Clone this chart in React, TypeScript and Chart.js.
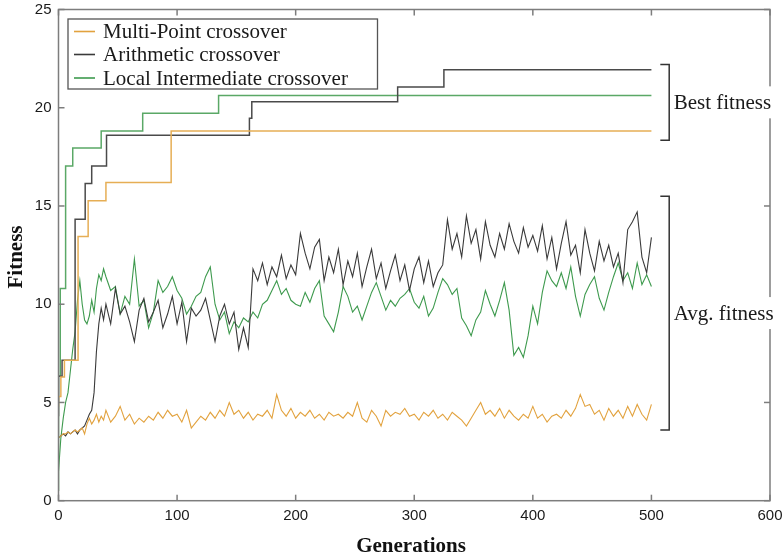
import React, { useEffect, useRef } from "react";
import { Chart, registerables } from "chart.js";

Chart.register(...registerables);

// ---- Data ----
const seriesNames = ["Multi-Point crossover", "Arithmetic crossover", "Local Intermediate crossover"];
const xTickValues = [0, 100, 200, 300, 400, 500, 600];
const yTickValues = [0, 5, 10, 15, 20, 25];

// Best fitness: generation where a new value starts, and the value (step function)
const bestMultiGen = [0, 2, 5, 16.5, 25, 40, 95, 143.5, 500];
const bestMultiVal = [4.8, 5.3, 6.3, 7.15, 13.45, 15.26, 16.2, 18.82, 18.82];
const bestArithGen = [0, 3, 14, 22.5, 28, 40.5, 161, 163, 286, 325, 339.5, 500];
const bestArithVal = [4.3, 6.34, 7.15, 14.33, 16.15, 17.04, 18.6, 19.47, 20.3, 21.05, 21.93, 21.93];
const bestLocalGen = [0, 1.5, 6, 12, 36, 71, 135, 264, 500];
const bestLocalVal = [0.5, 6.35, 10.8, 17.04, 17.95, 18.82, 19.72, 20.62, 20.62];

// Average fitness, sampled generations
const avgGen = [
  0, 2, 4, 6, 8, 10, 12, 14, 16, 18,
  20, 22, 24, 26, 28, 30, 32, 34, 36, 38,
  40, 44, 48, 52, 56, 60, 64, 68, 72, 76,
  80, 84, 88, 92, 96, 100, 104, 108, 112, 116,
  120, 124, 128, 132, 136, 140, 144, 148, 152, 156,
  160, 164, 168, 172, 176, 180, 184, 188, 192, 196,
  200, 204, 208, 212, 216, 220, 224, 228, 232, 236,
  240, 244, 248, 252, 256, 260, 264, 268, 272, 276,
  280, 284, 288, 292, 296, 300, 304, 308, 312, 316,
  320, 324, 328, 332, 336, 340, 344, 348, 352, 356,
  360, 364, 368, 372, 376, 380, 384, 388, 392, 396,
  400, 404, 408, 412, 416, 420, 424, 428, 432, 436,
  440, 444, 448, 452, 456, 460, 464, 468, 472, 476,
  480, 484, 488, 492, 496, 500,
];
const avgMulti = [
  3.2, 3.3, 3.4, 3.4, 3.5, 3.4, 3.5, 3.6, 3.5, 3.6,
  3.7, 3.4, 3.9, 4.2, 3.9, 4.1, 4.4, 4.0, 4.3, 4.1,
  4.6, 4.0, 4.3, 4.8, 4.1, 4.4, 3.9, 4.2, 4.0, 4.3,
  4.1, 4.5, 4.2, 4.6, 4.3, 4.4, 4.0, 4.6, 3.7, 4.0,
  4.3, 4.1, 4.5, 4.2, 4.6, 4.3, 5.0, 4.4, 4.6, 4.2,
  4.5, 4.1, 4.4, 4.3, 4.6, 4.2, 5.4, 4.6, 4.3, 4.7,
  4.2, 4.5, 4.3, 4.6, 4.2, 4.4, 4.1, 4.5, 4.3, 4.4,
  4.2, 4.5, 4.3, 5.0, 4.2, 4.0, 4.6, 4.3, 3.8, 4.6,
  4.3, 4.5, 4.4, 4.7, 4.3, 4.4, 4.1, 4.5, 4.3, 4.6,
  4.2, 4.4, 4.1, 4.5, 4.3, 4.1, 3.8, 4.2, 4.6, 5.0,
  4.4, 4.6, 4.3, 4.7, 4.2, 4.6, 4.3, 4.1, 4.4, 4.2,
  4.8, 4.2, 4.4, 4.0, 4.3, 4.4, 4.2, 4.6, 4.3, 4.7,
  5.4, 4.8, 4.9, 4.4, 4.6, 4.1, 4.7, 4.3, 4.6, 4.2,
  4.8, 4.3, 4.9, 4.4, 4.1, 4.9,
];
const avgArith = [
  3.2, 3.3, 3.4, 3.3, 3.5, 3.4, 3.5, 3.6, 3.4, 3.6,
  3.7, 3.8, 4.1, 4.4, 4.6, 5.5, 7.6, 9.0, 9.8, 9.2,
  10.0, 9.0, 10.8, 9.5, 9.9, 9.1, 8.1, 9.7, 10.3, 9.1,
  9.6, 10.2, 8.8, 9.5, 10.4, 9.0, 10.1, 8.1, 9.8, 9.4,
  9.7, 10.3, 9.2, 8.1, 9.4, 10.0, 9.0, 9.6, 7.7, 8.8,
  7.8, 11.8, 11.2, 12.1, 11.0, 11.9, 11.4, 12.5, 11.3, 12.0,
  11.5, 13.6, 12.6, 11.8, 12.9, 13.3, 11.2, 12.4, 11.6, 12.8,
  11.0, 12.2, 11.4, 12.6, 10.9, 11.9, 12.8, 11.3, 12.1, 10.8,
  11.7, 12.5, 11.2, 12.0, 10.7, 11.8, 12.4, 11.1, 12.2, 10.9,
  11.6, 12.0, 14.3, 12.8, 13.6, 12.4, 14.5, 13.1, 13.8, 12.3,
  14.2, 13.0, 12.4, 13.6, 12.8, 14.1, 13.2, 12.6, 13.9, 12.9,
  13.5, 12.7, 14.0, 12.3, 13.4, 11.8, 13.1, 14.2, 12.5, 13.0,
  11.6, 13.8, 12.6, 11.7, 13.2, 12.2, 13.0, 11.9, 12.6, 11.1,
  13.8, 14.2, 14.7, 12.4, 11.6, 13.4,
];
const avgLocal = [
  1.5, 3.2, 4.2, 5.0, 5.5, 6.6, 7.7, 8.6, 10.2, 11.2,
  10.0, 9.2, 9.0, 9.4, 10.2, 9.6, 10.8, 11.5, 11.2, 11.8,
  11.4, 10.7, 10.9, 9.5, 10.4, 10.0, 12.3, 9.9, 10.2, 8.8,
  9.6, 11.2, 10.6, 10.9, 11.4, 10.7, 10.3, 9.5, 9.9, 10.4,
  10.6, 11.4, 11.9, 10.0, 9.2, 9.6, 8.5, 9.1, 8.8, 9.3,
  9.1, 9.6, 9.3, 10.0, 10.2, 10.7, 11.2, 10.5, 10.8, 10.2,
  10.0, 9.9, 10.6, 10.1, 10.8, 11.2, 9.4, 9.0, 8.6, 9.6,
  10.9, 10.4, 9.6, 9.9, 9.2, 9.9, 10.6, 11.1, 10.4, 9.7,
  10.2, 9.9, 10.3, 10.5, 10.8, 10.1, 9.8, 10.4, 9.4, 9.8,
  10.6, 11.3, 11.0, 10.5, 10.8, 9.3, 8.9, 8.4, 9.2, 9.6,
  10.7, 10.0, 9.4, 10.2, 11.1, 9.7, 7.4, 7.8, 7.3, 8.4,
  9.9, 9.0, 10.6, 11.7, 11.2, 10.9, 11.6, 10.8, 11.9, 10.4,
  9.4, 10.5, 11.0, 11.4, 10.3, 9.7, 10.6, 11.4, 12.1, 11.2,
  11.6, 10.8, 12.1, 11.0, 11.5, 10.9,
];

// ---- Styles ----
const COLORS = ["#e2a23e", "#3a3a3a", "#3e9a4e"];
const BEST_COLORS = ["#e6ae55", "#4a4a4a", "#5aa866"];
const FRAME = "#7d7d7d";
const SERIF_FONT = '21px "Liberation Serif", "Times New Roman", serif';

const pts = (xs: number[], ys: number[]) => xs.map((x, i) => ({ x, y: ys[i] }));

const decorPlugin = {
  id: "decor",
  afterDatasetsDraw(chart: any) {
    const { ctx, chartArea: a, scales } = chart;
    const xs = scales.x;
    const ys = scales.y;
    ctx.save();
    const line = (x1: number, y1: number, x2: number, y2: number) => {
      ctx.beginPath();
      ctx.moveTo(x1, y1);
      ctx.lineTo(x2, y2);
      ctx.stroke();
    };
    // frame
    ctx.strokeStyle = FRAME;
    ctx.lineWidth = 1.5;
    ctx.strokeRect(a.left, a.top, a.right - a.left, a.bottom - a.top);
    const tl = 6;
    xTickValues.forEach((v) => {
      const px = xs.getPixelForValue(v);
      line(px, a.bottom, px, a.bottom - tl);
      line(px, a.top, px, a.top + tl);
    });
    yTickValues.forEach((v) => {
      const py = ys.getPixelForValue(v);
      line(a.left, py, a.left + tl, py);
      line(a.right, py, a.right - tl, py);
    });

    // brackets + labels
    const brackets = [
      { label: "Best fitness", top: 22.2, bottom: 18.35 },
      { label: "Avg. fitness", top: 15.5, bottom: 3.6 },
    ];
    const bx = xs.getPixelForValue(515);
    const bx0 = xs.getPixelForValue(507.5);
    ctx.lineWidth = 1.5;
    ctx.font = SERIF_FONT;
    brackets.forEach((b) => {
      const t = ys.getPixelForValue(b.top);
      const bt = ys.getPixelForValue(b.bottom);
      ctx.strokeStyle = "#333";
      ctx.beginPath();
      ctx.moveTo(bx0, t);
      ctx.lineTo(bx, t);
      ctx.lineTo(bx, bt);
      ctx.lineTo(bx0, bt);
      ctx.stroke();
      const cy = (t + bt) / 2;
      const tx = bx + 4.5;
      const w = ctx.measureText(b.label).width;
      ctx.fillStyle = "#fff";
      ctx.fillRect(tx - 1, cy - 16, w + 3, 32);
      ctx.fillStyle = "#1a1a1a";
      ctx.textAlign = "left";
      ctx.textBaseline = "middle";
      ctx.fillText(b.label, tx, cy + 1);
    });

    // legend
    const lx = 68, ly = 19, lw = 309.5, lh = 70;
    ctx.fillStyle = "#fff";
    ctx.fillRect(lx, ly, lw, lh);
    ctx.strokeStyle = "#555";
    ctx.lineWidth = 1.3;
    ctx.strokeRect(lx, ly, lw, lh);
    const rows = [31.5, 54.5, 78];
    ctx.font = SERIF_FONT;
    ctx.textBaseline = "middle";
    ctx.textAlign = "left";
    seriesNames.forEach((n, i) => {
      ctx.strokeStyle = COLORS[i];
      ctx.lineWidth = 1.6;
      line(74, rows[i], 95, rows[i]);
      ctx.fillStyle = "#1a1a1a";
      ctx.fillText(n, 103, rows[i] + 1);
    });

    // axis titles
    ctx.fillStyle = "#111";
    ctx.font = 'bold 21px "Liberation Serif", "Times New Roman", serif';
    ctx.textAlign = "center";
    ctx.textBaseline = "alphabetic";
    ctx.fillText("Generations", 411, 551.5);
    ctx.save();
    ctx.translate(21.5, 257);
    ctx.rotate(-Math.PI / 2);
    ctx.fillText("Fitness", 0, 0);
    ctx.restore();

    ctx.restore();
  },
};

export default function App() {
  const ref = useRef<HTMLCanvasElement | null>(null);
  useEffect(() => {
    if (!ref.current) return;
    const mk = (label: string, data: any[], color: string, width: number, stepped: any) => ({
      label,
      data,
      borderColor: color,
      backgroundColor: color,
      borderWidth: width,
      pointRadius: 0,
      fill: false,
      tension: 0,
      stepped,
    });
    const chart = new Chart(ref.current, {
      type: "line",
      data: {
        datasets: [
          mk("best-multi", pts(bestMultiGen, bestMultiVal), BEST_COLORS[0], 1.5, "after"),
          mk("best-arith", pts(bestArithGen, bestArithVal), BEST_COLORS[1], 1.5, "after"),
          mk("best-local", pts(bestLocalGen, bestLocalVal), BEST_COLORS[2], 1.5, "after"),
          mk(seriesNames[0], pts(avgGen, avgMulti), COLORS[0], 1.1, false),
          mk(seriesNames[1], pts(avgGen, avgArith), COLORS[1], 1.1, false),
          mk(seriesNames[2], pts(avgGen, avgLocal), COLORS[2], 1.1, false),
        ],
      },
      options: {
        animation: false,
        responsive: false,
        maintainAspectRatio: false,
        layout: { padding: { left: 0, right: 13, top: 9.5, bottom: 0 } },
        plugins: { legend: { display: false }, tooltip: { enabled: false } },
        scales: {
          x: {
            type: "linear",
            min: 0,
            max: 600,
            afterBuildTicks: (s: any) => {
              s.ticks = xTickValues.map((v) => ({ value: v }));
            },
            afterFit: (s: any) => {
              s.height = 56.3;
              s.paddingLeft = 0;
              s.paddingRight = 0;
            },
            ticks: {
              color: "#1a1a1a",
              font: { family: '"Liberation Sans", Arial, sans-serif', size: 15 },
              padding: 6,
              maxRotation: 0,
            },
            grid: { display: false, drawTicks: false },
            border: { display: false },
          },
          y: {
            type: "linear",
            min: 0,
            max: 25,
            afterBuildTicks: (s: any) => {
              s.ticks = yTickValues.map((v) => ({ value: v }));
            },
            afterFit: (s: any) => {
              s.width = 58.5;
              s.paddingTop = 0;
              s.paddingBottom = 0;
            },
            ticks: {
              color: "#1a1a1a",
              font: { family: '"Liberation Sans", Arial, sans-serif', size: 15 },
              padding: 7,
            },
            grid: { display: false, drawTicks: false },
            border: { display: false },
          },
        },
      },
      plugins: [decorPlugin],
    });
    return () => chart.destroy();
  }, []);
  return (
    <div style={{ position: "fixed", left: 0, top: 0, width: 783, height: 557, background: "#fff" }}>
      <canvas ref={ref} width={783} height={557} style={{ width: 783, height: 557, display: "block" }} />
    </div>
  );
}
